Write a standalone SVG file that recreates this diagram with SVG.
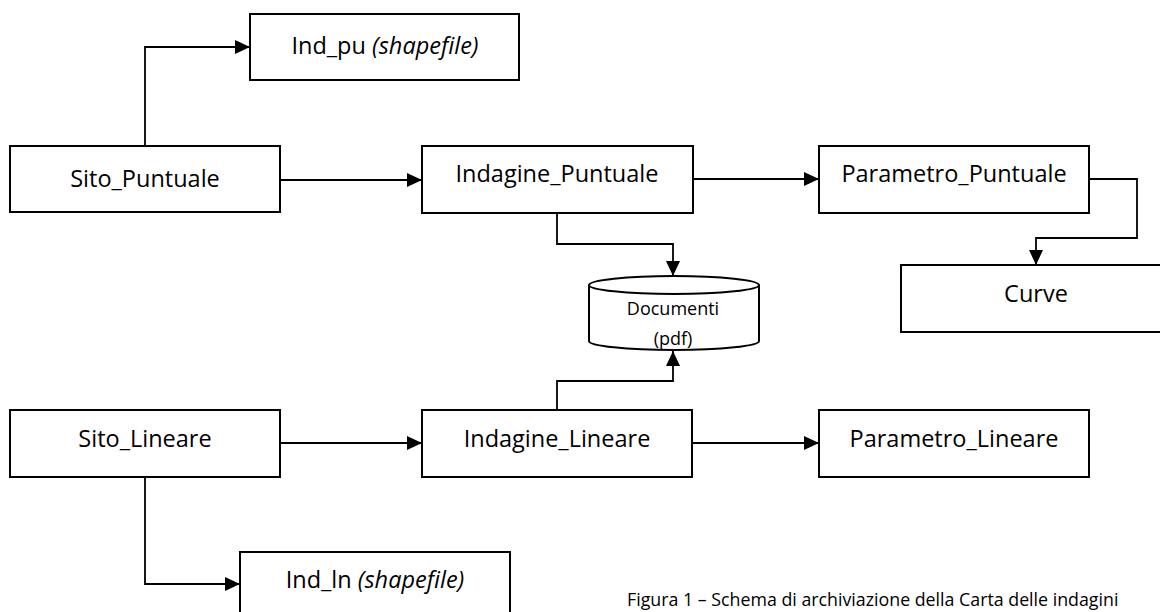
<svg xmlns="http://www.w3.org/2000/svg" width="1160" height="612" viewBox="0 0 1160 612">
<style>
.box{fill:#fff;stroke:#000;stroke-width:2}
.lbl{font-family:"Open Sans","Liberation Sans",sans-serif;font-size:23.5px;fill:#000;text-anchor:middle;dominant-baseline:central}
.sm{font-family:"Open Sans","Liberation Sans",sans-serif;font-size:18px;fill:#000;text-anchor:middle;dominant-baseline:central}
.cap{font-family:"Open Sans","Liberation Sans",sans-serif;font-size:17.8px;fill:#000}
.con{fill:none;stroke:#000;stroke-width:1.8}
</style>
<defs>
<marker id="ah" markerUnits="userSpaceOnUse" markerWidth="16" markerHeight="16" refX="15" refY="8" orient="auto">
<path d="M0,1 L15,8 L0,15 z" fill="#000"/>
</marker>
</defs>
<rect width="1160" height="612" fill="#fff"/>
<g id="connectors">
<polyline class="con" points="145,146 145,47 250,47" marker-end="url(#ah)"/>
<line class="con" x1="280" y1="180" x2="422" y2="180" marker-end="url(#ah)"/>
<line class="con" x1="693" y1="179" x2="819" y2="179" marker-end="url(#ah)"/>
<polyline class="con" points="1089,179 1137,179 1137,238 1036,238 1036,265" marker-end="url(#ah)"/>
<polyline class="con" points="557,213 557,244 673,244 673,276" marker-end="url(#ah)"/>
<polyline class="con" points="557,410 557,381 673,381 673,351" marker-end="url(#ah)"/>
<line class="con" x1="280" y1="443" x2="422" y2="443" marker-end="url(#ah)"/>
<line class="con" x1="692" y1="443" x2="819" y2="443" marker-end="url(#ah)"/>
<polyline class="con" points="145,477 145,584 240,584" marker-end="url(#ah)"/>
</g>
<g id="ind_pu">
<rect class="box" x="250" y="14" width="269" height="66"/>
<text class="lbl" x="385" y="45">Ind_pu <tspan font-style="italic">(shapefile)</tspan></text>
</g>
<g id="sito_puntuale">
<rect class="box" x="10" y="146" width="270" height="66"/>
<text class="lbl" x="145" y="178">Sito_Puntuale</text>
</g>
<g id="indagine_puntuale">
<rect class="box" x="422" y="146" width="271" height="67"/>
<text class="lbl" x="557" y="173">Indagine_Puntuale</text>
</g>
<g id="parametro_puntuale">
<rect class="box" x="819" y="146" width="270" height="67"/>
<text class="lbl" x="954" y="173">Parametro_Puntuale</text>
</g>
<g id="curve">
<rect class="box" x="901" y="265" width="270" height="67"/>
<text class="lbl" x="1036" y="293">Curve</text>
</g>
<g id="documenti">
<path class="box" d="M589,285 L589,341 A85,9 0 0 0 759,341 L759,285"/>
<ellipse class="box" cx="674" cy="285" rx="85" ry="9"/>
<text class="sm" x="673" y="308">Documenti</text>
<text class="sm" x="673" y="338">(pdf)</text>
</g>
<g id="sito_lineare">
<rect class="box" x="10" y="410" width="270" height="67"/>
<text class="lbl" x="145" y="438">Sito_Lineare</text>
</g>
<g id="indagine_lineare">
<rect class="box" x="422" y="410" width="270" height="67"/>
<text class="lbl" x="557" y="438">Indagine_Lineare</text>
</g>
<g id="parametro_lineare">
<rect class="box" x="819" y="410" width="270" height="67"/>
<text class="lbl" x="954" y="438">Parametro_Lineare</text>
</g>
<g id="ind_ln">
<rect class="box" x="240" y="552" width="270" height="67"/>
<text class="lbl" x="375" y="579">Ind_ln <tspan font-style="italic">(shapefile)</tspan></text>
</g>
<text class="cap" x="627" y="606">Figura 1 – Schema di archiviazione della Carta delle indagini</text>
</svg>
